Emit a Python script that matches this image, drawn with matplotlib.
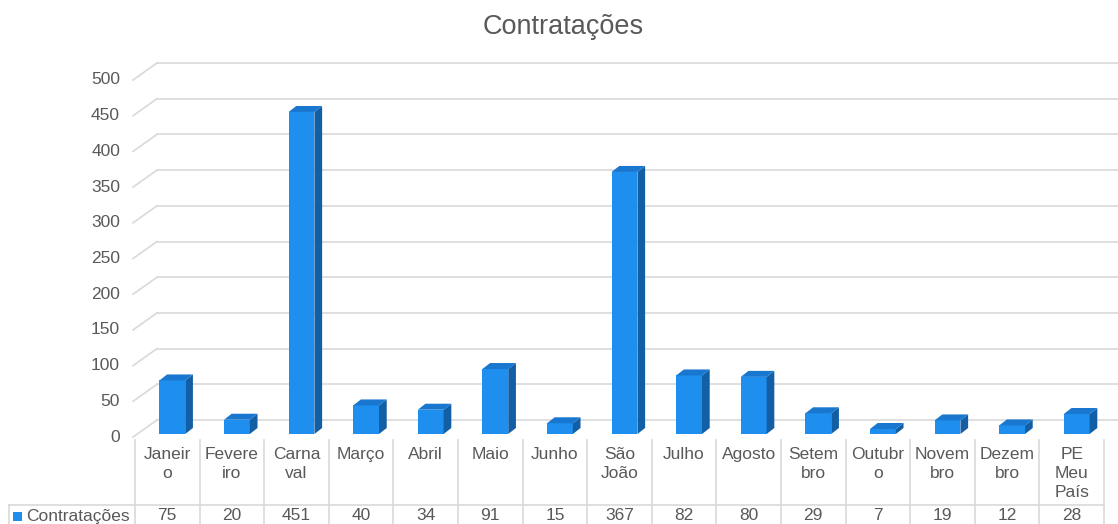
import matplotlib.pyplot as plt
from matplotlib.patches import Polygon, Rectangle

plt.rcParams['font.family'] = ['Liberation Sans', 'DejaVu Sans']

categories = ["Janeir\no", "Fevere\niro", "Carna\nval", "Março", "Abril", "Maio",
              "Junho", "São\nJoão", "Julho", "Agosto", "Setem\nbro", "Outubr\no",
              "Novem\nbro", "Dezem\nbro", "PE\nMeu\nPaís"]
values = [75, 20, 451, 40, 34, 91, 15, 367, 82, 80, 29, 7, 19, 12, 28]
yticks = [0, 50, 100, 150, 200, 250, 300, 350, 400, 450, 500]
series_name = "Contratações"

front_col = "#1E8FEE"
side_col = "#135FA6"
top_col = "#1977CF"
grid_col = "#D9D9D9"
text_col = "#595959"
fs = 12.5

W, H = 1118, 524
fig = plt.figure(figsize=(W / 100, H / 100), dpi=100)
ax = fig.add_axes([0, 0, 1, 1])

# pixel scale of the plot
px_x = 64.6   # pixels per category
px_y = 0.714  # pixels per unit
x0, y0 = 135, 437


def dx(p):
    return p / px_x


def dy(p):
    return p / px_y


ax.set_xlim(-x0 / px_x, (W - x0) / px_x)
ax.set_ylim((y0 - H) / px_y, y0 / px_y)
ax.axis('off')

n = len(categories)

# back wall depth
DX, DY = dx(22), dy(17)

# gridlines
for t in yticks:
    ax.plot([-0.03, DX], [t, t + DY], color=grid_col, lw=1.2, zorder=1)
    ax.plot([DX, n + DX], [t + DY, t + DY], color=grid_col, lw=1.2, zorder=1)
    ax.text(dx(-15), t, str(t), ha='right', va='center', fontsize=fs,
            color=text_col)

# bars
sx, sy = dx(5), dy(3)
bdx, bdy = dx(7.7), dy(6)
bw = 0.4
for i, v in enumerate(values):
    bx = i + 0.3 + sx
    ax.add_patch(Rectangle((bx, sy), bw, v, facecolor=front_col,
                           edgecolor='none', zorder=3))
    ax.add_patch(Polygon([(bx + bw, sy), (bx + bw + bdx, sy + bdy),
                          (bx + bw + bdx, sy + v + bdy), (bx + bw, sy + v)],
                         closed=True, facecolor=side_col, edgecolor='none',
                         zorder=3))
    ax.add_patch(Polygon([(bx, sy + v), (bx + bw, sy + v),
                          (bx + bw + bdx, sy + v + bdy), (bx + bdx, sy + v + bdy)],
                         closed=True, facecolor=top_col, edgecolor='none',
                         zorder=3))

# data table
y_top = dy(-3)
y_bot = dy(y0 - H)
y_mid = dy(y0 - 504.5)
for i in range(n + 1):
    ax.plot([i, i], [y_top, y_bot], color=grid_col, lw=1.2, clip_on=False)
ax.plot([dx(9 - x0), n], [y_mid, y_mid], color=grid_col, lw=1.2)
ax.plot([dx(9 - x0), dx(9 - x0)], [y_mid, y_bot], color=grid_col, lw=1.2)

for i, (c, v) in enumerate(zip(categories, values)):
    ax.text(i + 0.5, dy(y0 - 447), c, ha='center', va='top', fontsize=fs,
            color=text_col, linespacing=1.32)
    ax.text(i + 0.5, dy(y0 - 516), str(v), ha='center', va='center',
            fontsize=fs, color=text_col)

ax.add_patch(Rectangle((dx(13 - x0), dy(y0 - 521)), dx(9), dy(9),
                       facecolor=front_col, edgecolor='none'))
ax.text(dx(26 - x0), dy(y0 - 516), series_name, ha='left', va='center',
        fontsize=fs, color=text_col)

fig.text(563 / W, 1 - 27 / H, "Contratações", ha='center', va='center',
         fontsize=19.5, color=text_col)

plt.savefig("out.png", dpi=100)
